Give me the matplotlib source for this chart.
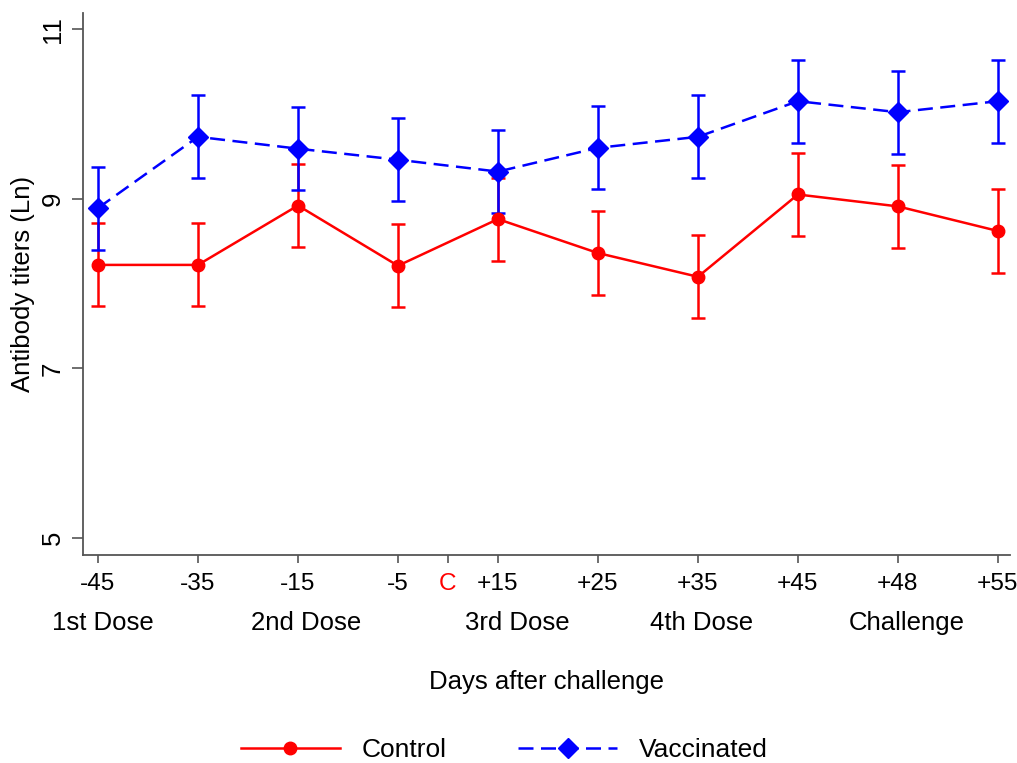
import numpy as np
import matplotlib
matplotlib.use("Agg")
import matplotlib.pyplot as plt
from matplotlib.lines import Line2D

plt.rcParams['font.family'] = ['Liberation Sans', 'DejaVu Sans']

days = ['-45', '-35', '-15', '-5', '+15', '+25', '+35', '+45', '+48', '+55']
control = [8.22, 8.22, 8.92, 8.21, 8.76, 8.36, 8.08, 9.05, 8.91, 8.62]
control_err = [0.49, 0.49, 0.49, 0.49, 0.49, 0.49, 0.49, 0.49, 0.49, 0.49]
vaccinated = [8.89, 9.73, 9.59, 9.46, 9.32, 9.60, 9.73, 10.15, 10.02, 10.15]
vaccinated_err = [0.49, 0.49, 0.49, 0.49, 0.49, 0.49, 0.49, 0.49, 0.49, 0.49]
dose_labels = ['1st Dose', '2nd Dose', '3rd Dose', '4th Dose', 'Challenge']
dose_pos = [0.05, 2.08, 4.19, 6.04, 8.09]

x = np.arange(len(days))
fs = 18.5

fig = plt.figure(figsize=(10.17, 7.63), dpi=100)
ax = fig.add_axes([0.0816, 0.2726, 0.9114, 0.7104])

red = '#ff0000'
blue = '#0000ff'

ax.errorbar(x, control, yerr=control_err, color=red, lw=1.8, marker='o',
            ms=9, capsize=5, capthick=1.8, elinewidth=1.8)
vl = ax.errorbar(x, vaccinated, yerr=vaccinated_err, color=blue, lw=1.8,
                 marker='D', ms=10, capsize=5, capthick=1.8, elinewidth=1.8)
vl[0].set_dashes([6, 3])

ax.set_xlim(-0.15, 9.12)
ax.set_ylim(4.8, 11.19)
ax.set_yticks([5, 7, 9, 11])
ax.set_yticklabels(['5', '7', '9', '11'], rotation=90, va='center')

ticks = list(x[:4]) + [3.5] + list(x[4:])
labels = days[:4] + ['C'] + days[4:]
ax.set_xticks(ticks)
ax.set_xticklabels(labels)
ax.get_xticklabels()[4].set_color(red)
ax.xaxis.get_major_ticks()[4].tick1line.set_color(red)

for s in ['top', 'right']:
    ax.spines[s].set_visible(False)
for s in ['left', 'bottom']:
    ax.spines[s].set_color('#555555')
    ax.spines[s].set_linewidth(1.3)

ax.tick_params(axis='x', length=6, width=1.2, color='#555555', labelsize=17.6, pad=7)
ax.tick_params(axis='y', length=8, width=1.2, color='#555555', labelsize=fs, pad=5)

for lab, p in zip(dose_labels, dose_pos):
    ax.text(p, -0.125, lab, transform=ax.get_xaxis_transform(),
            ha='center', va='center', fontsize=fs)

ax.text(0.5, -0.234, 'Days after challenge', transform=ax.transAxes,
        ha='center', va='center', fontsize=fs)
ax.set_ylabel('Antibody titers (Ln)', fontsize=fs, labelpad=4)

handles = [
    Line2D([], [], color=red, lw=1.8, marker='o', ms=9),
    Line2D([], [], color=blue, lw=1.8, marker='D', ms=10, dashes=[6, 3]),
]
fig.legend(handles, ['Control', 'Vaccinated'], loc='center',
           bbox_to_anchor=(0.496, 0.017), ncol=2, frameon=False,
           fontsize=19, handlelength=3.75, columnspacing=2.7, handletextpad=0.83)

fig.savefig('out.png', dpi=100)
